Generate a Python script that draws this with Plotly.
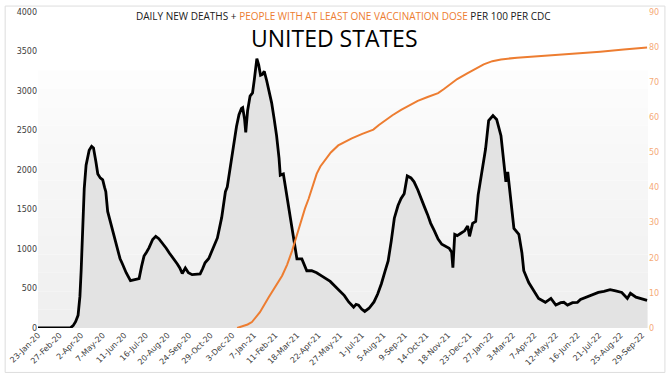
import pandas as pd
import plotly.graph_objects as go

START = "2020-01-23"

# Daily new deaths (7-day avg), day offsets from START and values
death_days = [0, 42, 53, 57, 61, 65, 68, 70, 73, 75, 78, 83, 87, 90, 94, 97, 101, 105, 108, 110,
              113, 117, 121, 125, 129, 133, 137, 143, 150, 157, 164, 168, 172, 176, 180, 186, 191,
              196, 202, 208, 213, 220, 226, 230, 234, 239, 244, 250, 257, 263, 267, 271, 277, 284,
              291, 298, 302, 304, 307, 312, 318, 322, 326, 330, 332, 335, 337, 340, 344, 348, 351,
              355, 358, 361, 364, 367, 371, 375, 379, 383, 387, 391, 393, 398, 402, 407, 411, 415,
              420, 428, 436, 444, 452, 460, 468, 474, 481, 489, 497, 504, 512, 516, 520, 525, 530,
              537, 545, 551, 557, 563, 568, 573, 578, 584, 589, 594, 599, 605, 610, 616, 621, 627,
              632, 637, 643, 649, 655, 661, 667, 671, 673, 676, 680, 686, 692, 697, 700, 705, 710,
              714, 718, 722, 726, 731, 738, 744, 751, 755, 759, 762, 767, 772, 780, 785, 788, 796,
              804, 812, 823, 832, 840, 848, 853, 859, 867, 875, 880, 885, 896, 909, 918, 928, 937,
              947, 956, 961, 970, 978, 988]
deaths = [0, 0, 5, 30, 80, 160, 400, 725, 1300, 1765, 2060, 2250, 2300, 2280, 2100, 1950, 1900,
          1875, 1780, 1725, 1475, 1350, 1225, 1100, 975, 880, 810, 700, 600, 610, 625, 780, 910,
          960, 1015, 1120, 1160, 1130, 1075, 1010, 950, 880, 810, 760, 690, 760, 700, 675, 680,
          685, 750, 825, 880, 1000, 1140, 1400, 1650, 1725, 1785, 2050, 2350, 2550, 2700, 2780,
          2790, 2650, 2475, 2750, 2935, 2975, 3150, 3410, 3330, 3200, 3210, 3250, 3130, 3000,
          2850, 2650, 2435, 2150, 1935, 1950, 1750, 1475, 1280, 1100, 875, 875, 725, 725, 700,
          660, 620, 590, 535, 470, 410, 330, 265, 300, 290, 240, 210, 250, 330, 430, 560, 720,
          850, 1100, 1390, 1550, 1640, 1700, 1925, 1900, 1850, 1750, 1640, 1530, 1435, 1325,
          1230, 1125, 1060, 1040, 1010, 960, 765, 1185, 1170, 1200, 1230, 1290, 1160, 1325, 1350,
          1685, 1900, 2060, 2265, 2625, 2690, 2640, 2435, 2140, 1850, 1975, 1640, 1260, 1185,
          950, 725, 575, 475, 375, 325, 375, 290, 320, 325, 290, 320, 325, 360, 375, 410, 450,
          465, 485, 470, 450, 375, 440, 390, 370, 350]

# People with at least one vaccination dose per 100
vax_days = [323, 330, 340, 347, 360, 374, 385, 396, 404, 412, 420, 428, 433, 439, 446, 452, 458,
            465, 475, 487, 498, 509, 526, 544, 553, 562, 575, 589, 603, 616, 632, 643, 649, 658,
            667, 680, 697, 710, 723, 737, 751, 777, 804, 830, 859, 885, 912, 950, 988]
vax = [0, 0.4, 1.0, 1.7, 4.5, 8.7, 12, 14.9, 18, 21.9, 26.5, 31.2, 34, 36.8, 40.5, 43.9, 46, 47.8,
       50, 52, 53.1, 54, 55.3, 56.5, 57.8, 59, 60.6, 62.1, 63.5, 64.7, 65.8, 66.4, 66.9, 68, 69.2,
       70.9, 72.6, 73.9, 75.1, 76, 76.5, 77, 77.3, 77.6, 77.9, 78.3, 78.7, 79.3, 79.9]

TICK_STEP_DAYS = 35
N_TICKS = 29

start = pd.Timestamp(START)
death_dates = [start + pd.Timedelta(days=d) for d in death_days]
vax_dates = [start + pd.Timedelta(days=d) for d in vax_days]
tick_dates = [start + pd.Timedelta(days=TICK_STEP_DAYS * i) for i in range(N_TICKS)]
tick_text = [f"{t.day}-{t.strftime('%b-%y')}" for t in tick_dates]
x_end = start + pd.Timedelta(days=989.5)

ORANGE = "#ED7D31"
TICKFONT = dict(family="DejaVu Sans", size=8, color="#404040")

W, H = 668, 376
ML, MR, MT, MB = 35, 20, 8, 48
PW, PH = W - ML - MR, H - MT - MB

fig = go.Figure()

# background gradient bands (decoration)
n_bands = 14
top_val = 3260
for i in range(n_bands):
    c = int(239 + (253 - 239) * i / (n_bands - 1))
    fig.add_shape(type="rect", xref="x", yref="y",
                  x0=start, x1=x_end,
                  y0=top_val * i / n_bands, y1=top_val * (i + 1) / n_bands,
                  fillcolor=f"rgb({c},{c},{c})", line_width=0, layer="below")

fig.add_trace(go.Scatter(x=death_dates, y=deaths, mode="lines",
                         line=dict(color="#000000", width=2.8),
                         fill="tozeroy", fillcolor="#e3e3e3",
                         name="Daily new deaths", yaxis="y"))
fig.add_trace(go.Scatter(x=vax_dates, y=vax, mode="lines",
                         line=dict(color=ORANGE, width=2),
                         name="At least one dose per 100", yaxis="y2"))

# outer border
fig.add_shape(type="rect", xref="paper", yref="paper",
              x0=(2 - ML) / PW, x1=(W - 3 - ML) / PW,
              y0=(PH - (H - 3 - MT)) / PH, y1=(PH + MT - 2) / PH,
              line=dict(color="#dddddd", width=1), fillcolor="rgba(0,0,0,0)", layer="below")

fig.update_layout(
    width=W, height=H,
    margin=dict(l=ML, r=MR, t=MT, b=MB),
    paper_bgcolor="white", plot_bgcolor="white",
    showlegend=False,
    xaxis=dict(type="date", range=[start, x_end], tickmode="array",
               tickvals=tick_dates, ticktext=tick_text, tickangle=-45,
               tickfont=TICKFONT, showgrid=False, zeroline=False, showline=False,
               ticks=""),
    yaxis=dict(range=[0, 4000], dtick=500, tickfont=TICKFONT, showgrid=False,
               zeroline=False, showline=False, ticks=""),
    yaxis2=dict(range=[0, 90], dtick=10, overlaying="y", side="right",
                tickfont=dict(family="DejaVu Sans", size=8, color="#f5ab78"),
                showgrid=False, zeroline=False, showline=False, ticks=""),
    annotations=[
        dict(xref="paper", yref="paper", x=0.5, y=(PH + MT - 12) / PH, yanchor="middle", showarrow=False,
             text="DAILY NEW DEATHS + <span style='color:#ED7D31'>PEOPLE WITH AT LEAST ONE VACCINATION DOSE</span> PER 100 PER CDC",
             font=dict(family="Open Sans", size=10, color="#202020")),
        dict(xref="paper", yref="paper", x=0.486, y=(PH + MT - 34) / PH, yanchor="middle", showarrow=False,
             text="UNITED STATES",
             font=dict(family="Open Sans", size=23, color="#000000")),
    ],
)

fig.write_html("out.html", config={"displayModeBar": False},
               post_script="document.body.style.margin='0';")
